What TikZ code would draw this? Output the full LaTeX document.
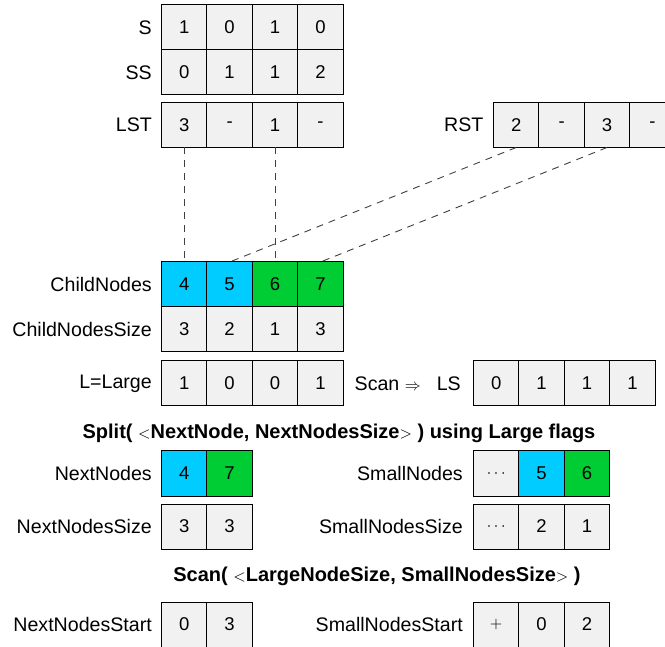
\documentclass[tikz,border=0pt]{standalone}
\usepackage{graphicx}
\usepackage{fontspec}
\setmainfont{Liberation Sans}
\definecolor{cellgray}{RGB}{241,241,241}
\definecolor{cyanc}{RGB}{0,204,255}
\definecolor{greenc}{RGB}{0,204,51}
\newcommand{\mth}[1]{{\fontsize{10}{10}\selectfont\scalebox{1.6}{$#1$}}}
\tikzset{
  cell/.style={draw=black, line width=1pt, minimum width=45.4pt, minimum height=45pt,
    inner sep=0pt, outer sep=0pt, font=\fontsize{18.5}{18.5}\selectfont},
  lbl/.style={anchor=east, inner sep=0pt, font=\fontsize{19.6}{19.6}\selectfont},
  title/.style={inner sep=0pt, font=\bfseries\fontsize{20}{20}\selectfont},
  conn/.style={dash pattern=on 7pt off 6pt, line width=0.9pt, black!75},
}
\newcommand{\cellarr}[4]{%
  \foreach [count=\i] \v/\f in {#4} {
    \node[cell, fill=\f] (#1\i) at ({#2+(\i-0.5)*45.4}, {#3+22.5}) {\v};
  }}
\begin{document}
\begin{tikzpicture}[x=1pt,y=-1pt]
\useasboundingbox (0,0) rectangle (665,647);
\clip (0,0) rectangle (665,647);
% top arrays
\cellarr{S}{161.5}{5}{1/cellgray,0/cellgray,1/cellgray,0/cellgray}
\cellarr{SS}{161.5}{50}{0/cellgray,1/cellgray,1/cellgray,2/cellgray}
\cellarr{LST}{161.5}{102.5}{3/cellgray,-/cellgray,1/cellgray,-/cellgray}
\cellarr{RST}{493.5}{102.5}{2/cellgray,-/cellgray,3/cellgray,-/cellgray}
\node[lbl] (lS) at (152,27.5) {S};
\node[lbl] (lSS) at (152,72.5) {SS};
\node[lbl] (lLST) at (152,125) {LST};
\node[lbl] (lRST) at (483.5,125) {RST};
% child nodes
\cellarr{CN}{161.5}{262}{4/cyanc,5/cyanc,6/greenc,7/greenc}
\cellarr{CNS}{161.5}{307}{3/cellgray,2/cellgray,1/cellgray,3/cellgray}
\cellarr{L}{161.5}{361}{1/cellgray,0/cellgray,0/cellgray,1/cellgray}
\cellarr{LS}{473.5}{361}{0/cellgray,1/cellgray,1/cellgray,1/cellgray}
\node[lbl] (lCN) at (152,284.5) {ChildNodes};
\node[lbl] (lCNS) at (152,329.5) {ChildNodesSize};
\node[lbl] (lL) at (152,383.5) {L=Large};
\node[lbl] (lLS) at (461,383.5) {Scan \mth{\Rightarrow}\hspace{16pt}LS};
% connectors
\draw[conn] (LST1.south) -- (CN1.north);
\draw[conn] (LST3.south) -- (CN3.north);
\draw[conn] (RST1.south) -- (CN2.north);
\draw[conn] (RST3.south) -- (CN4.north);
% split
\node[title] (split) at (339,433) {Split( \mth{<}NextNode, NextNodesSize\mth{>} ) using Large flags};
\cellarr{NN}{161.5}{451}{4/cyanc,7/greenc}
\cellarr{NNS}{161.5}{504}{3/cellgray,3/cellgray}
\cellarr{SN}{473.5}{451}{\mth{\cdots}/cellgray,5/cyanc,6/greenc}
\cellarr{SNS}{473.5}{504}{\mth{\cdots}/cellgray,2/cellgray,1/cellgray}
\node[lbl] (lNN) at (152,473.5) {NextNodes};
\node[lbl] (lNNS) at (152,526.5) {NextNodesSize};
\node[lbl] (lSN) at (463,473.5) {SmallNodes};
\node[lbl] (lSNS) at (463,526.5) {SmallNodesSize};
% scan
\node[title] (scan) at (377,576) {Scan( \mth{<}LargeNodeSize, SmallNodesSize\mth{>} )};
\cellarr{NNSt}{161.5}{602}{0/cellgray,3/cellgray}
\cellarr{SNSt}{473.5}{602}{\mth{+}/cellgray,0/cellgray,2/cellgray}
\node[lbl] (lNNSt) at (152,624.5) {NextNodesStart};
\node[lbl] (lSNSt) at (463,624.5) {SmallNodesStart};
\end{tikzpicture}
\end{document}
